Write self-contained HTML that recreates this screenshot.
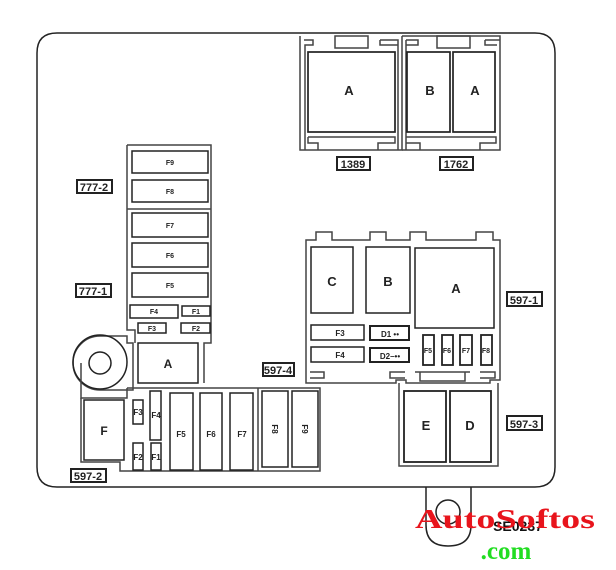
<!DOCTYPE html>
<html><head><style>
html,body{margin:0;padding:0;background:#fff;width:616px;height:570px;overflow:hidden}
svg text{font-family:"Liberation Sans",Arial,sans-serif;font-weight:bold;fill:#222}
</style></head><body>
<svg width="616" height="570" viewBox="0 0 616 570" xmlns="http://www.w3.org/2000/svg">
<g fill="none" stroke="#222" stroke-width="1.5">
<path d="M57,33 H535 Q555,33 555,53 V467 Q555,487 535,487 H57 Q37,487 37,467 V53 Q37,33 57,33 Z"/>
<path d="M426,487 V525 Q426,546 448,546 Q471,546 471,525 V487"/>
<circle cx="448" cy="512" r="12"/>

<path d="M300,36 V150 H402 V36" stroke="#444"/>
<path d="M304,40 H313 V45 H305 V150" stroke="#444"/>
<rect x="335" y="36" width="33" height="12" stroke="#444"/>
<path d="M380,40 H398 V150" stroke="#444"/>
<path d="M380,40 V45 H398" stroke="#444"/>
<rect x="308" y="52" width="87" height="80" stroke-width="1.7"/>
<path d="M308,137 H395 V143 H378 V150 M308,137 V143 H318 V150" stroke="#444"/>
<path d="M406,40 V150 M402,36 H500 V150 H402" stroke="#444"/>
<rect x="437" y="36" width="33" height="12" stroke="#444"/>
<path d="M406,40 H418 V45 H406 M485,40 H500 M485,40 V45 H497" stroke="#444"/>
<rect x="407" y="52" width="43" height="80" stroke-width="1.7"/>
<rect x="453" y="52" width="42" height="80" stroke-width="1.7"/>
<path d="M406,137 H496 V143 H480 V150 M406,143 H420 V150" stroke="#444"/>

<path d="M127,145 H211 V343 H204 V383" stroke="#444"/>
<path d="M127,145 V330 H135 V343" stroke="#444"/>
<line x1="127" y1="209" x2="211" y2="209" stroke="#444"/>
<rect x="132" y="151" width="76" height="22"/>
<rect x="132" y="180" width="76" height="22"/>
<rect x="132" y="213" width="76" height="24"/>
<rect x="132" y="243" width="76" height="24"/>
<rect x="132" y="273" width="76" height="24"/>
<rect x="130" y="305" width="48" height="13"/>
<rect x="182" y="306" width="28" height="10"/>
<rect x="138" y="323" width="28" height="10"/>
<rect x="181" y="323" width="29" height="10"/>
<rect x="138" y="343" width="60" height="40"/>
<path d="M100,336 A27,27 0 0 0 100,390 H133 V343 H127 V336 Z" stroke="#444"/>
<circle cx="100" cy="362" r="27"/>
<circle cx="100" cy="363" r="11"/>
<path d="M81,363 V398 H127 V388" stroke="#444"/>

<path d="M127,388 H320 V471 H120 V462 H81 V398" stroke="#444"/>
<line x1="258" y1="388" x2="258" y2="471" stroke="#444"/>
<rect x="84" y="400" width="40" height="60"/>
<rect x="133" y="400" width="10" height="24"/>
<rect x="150" y="391" width="11" height="49"/>
<rect x="133" y="443" width="10" height="27"/>
<rect x="151" y="443" width="10" height="27"/>
<rect x="170" y="393" width="23" height="77"/>
<rect x="200" y="393" width="22" height="77"/>
<rect x="230" y="393" width="23" height="77"/>
<rect x="262" y="391" width="26" height="76"/>
<rect x="292" y="391" width="26" height="76"/>

<path d="M306,240 H316 V232 H332 V240 H370 V232 H386 V240 H410 V232 H426 V240 H476 V232 H493 V240 H500 V380 H490 V383 H406 V380 H396 V383 H306 Z" stroke="#444"/>
<path d="M310,372 H324 V378 H310 M405,372 H390 V378 H405 M415,372 H470 M420,372 V381 H465 V372 M480,372 H495 V378 H480" stroke="#444"/>
<rect x="311" y="247" width="42" height="66"/>
<rect x="366" y="247" width="44" height="66"/>
<rect x="415" y="248" width="79" height="80"/>
<rect x="311" y="325" width="53" height="15"/>
<rect x="311" y="347" width="53" height="15"/>
<rect x="370" y="326" width="39" height="14" stroke-width="2"/>
<rect x="370" y="348" width="39" height="14" stroke-width="2"/>
<rect x="423" y="335" width="11" height="30" stroke-width="1.8"/>
<rect x="442" y="335" width="11" height="30" stroke-width="1.8"/>
<rect x="460" y="335" width="12" height="30" stroke-width="1.8"/>
<rect x="481" y="335" width="11" height="30" stroke-width="1.8"/>

<path d="M399,383 V466 H498 V383" stroke="#444"/>
<rect x="404" y="391" width="42" height="71" stroke-width="1.8"/>
<rect x="450" y="391" width="41" height="71" stroke-width="1.8"/>

<g stroke-width="2">
<rect x="337" y="157" width="33" height="13"/>
<rect x="440" y="157" width="33" height="13"/>
<rect x="77" y="180" width="35" height="13"/>
<rect x="76" y="284" width="35" height="13"/>
<rect x="263" y="363" width="31" height="13"/>
<rect x="507" y="292" width="35" height="14"/>
<rect x="507" y="416" width="35" height="14"/>
<rect x="71" y="469" width="35" height="13"/>
</g>
</g>

<g text-anchor="middle">
<text x="349" y="95" font-size="13">A</text>
<text x="430" y="95" font-size="13">B</text>
<text x="475" y="95" font-size="13">A</text>
<text x="353" y="168" font-size="11">1389</text>
<text x="456" y="168" font-size="11">1762</text>
<text x="94" y="191" font-size="11">777-2</text>
<text x="93" y="295" font-size="11">777-1</text>
<text x="278" y="374" font-size="11">597-4</text>
<text x="524" y="304" font-size="11">597-1</text>
<text x="524" y="428" font-size="11">597-3</text>
<text x="88" y="480" font-size="11">597-2</text>
<g font-size="7" font-weight="normal">
<text x="170" y="165">F9</text><text x="170" y="194">F8</text>
<text x="170" y="228">F7</text><text x="170" y="258">F6</text><text x="170" y="288">F5</text>
<text x="154" y="314">F4</text><text x="196" y="314">F1</text>
<text x="152" y="331">F3</text><text x="196" y="331">F2</text>
</g>
<text x="168" y="368" font-size="12">A</text>
<text x="104" y="435" font-size="12">F</text>
<g font-size="8">
<text x="138" y="415">F3</text><text x="156" y="418">F4</text>
<text x="138" y="460">F2</text><text x="156" y="460">F1</text>
<text x="181" y="437">F5</text><text x="211" y="437">F6</text><text x="242" y="437">F7</text>
<text x="275" y="432" transform="rotate(90 275 429)">F8</text>
<text x="305" y="432" transform="rotate(90 305 429)">F9</text>
</g>
<text x="332" y="286" font-size="13">C</text>
<text x="388" y="286" font-size="13">B</text>
<text x="456" y="293" font-size="13">A</text>
<text x="340" y="336" font-size="8" font-weight="normal">F3</text>
<text x="340" y="358" font-size="8" font-weight="normal">F4</text>
<text x="390" y="337" font-size="8" font-weight="normal">D1 ••</text>
<text x="390" y="359" font-size="8" font-weight="normal">D2–••</text>
<g font-size="7" font-weight="normal">
<text x="428" y="353">F5</text><text x="447" y="353">F6</text><text x="466" y="353">F7</text><text x="486" y="353">F8</text>
</g>
<text x="426" y="430" font-size="13">E</text>
<text x="470" y="430" font-size="13">D</text>
<text x="518" y="531" font-size="14" style="fill:#111">SE0237</text>
<text x="505" y="528" font-size="27" textLength="180" lengthAdjust="spacingAndGlyphs" style="fill:#e8141c;font-family:'Liberation Serif',serif;font-weight:bold">AutoSoftos</text>
<text x="506" y="559" font-size="25" style="fill:#22dd22;font-family:'Liberation Serif',serif;font-weight:bold">.com</text>
</g>
</svg>
</body></html>
